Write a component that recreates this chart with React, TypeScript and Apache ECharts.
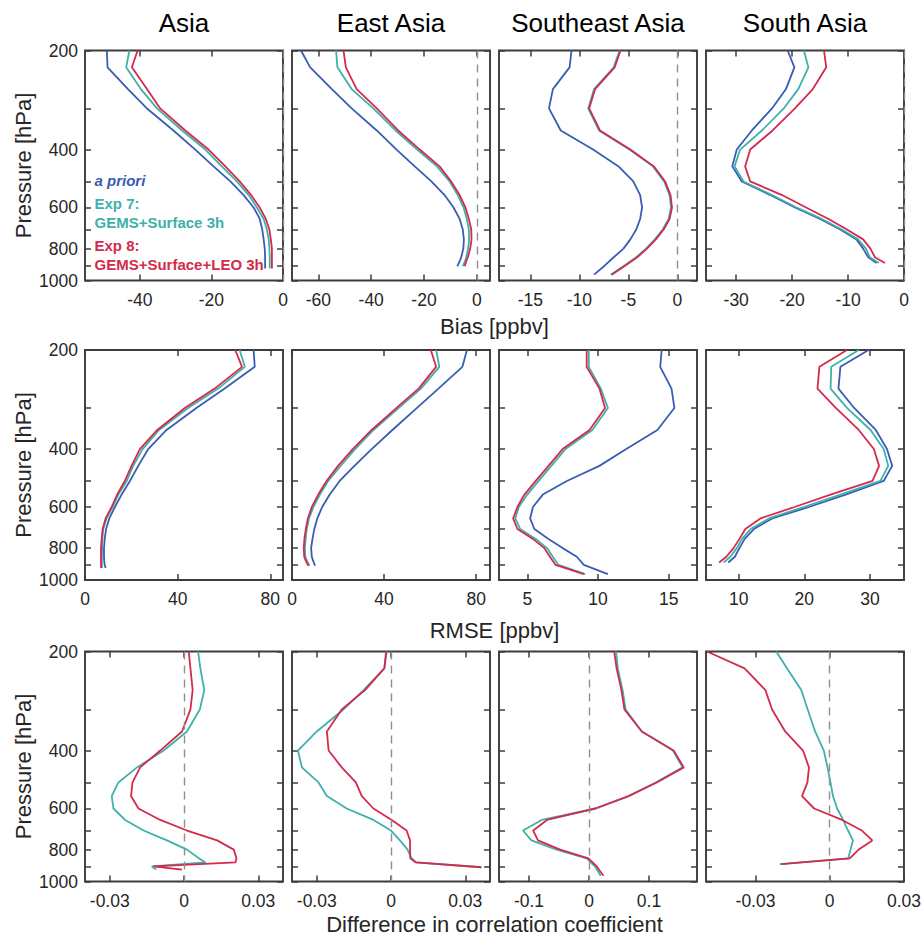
import React, { useEffect, useRef } from "react";
import * as echarts from "echarts";

const REGIONS = ["Asia", "East Asia", "Southeast Asia", "South Asia"];
const BASE_LEVELS = [200, 225, 262, 300, 350, 400, 450, 500, 550, 600, 650, 700, 750, 800, 850];
const P_ASIA = [...BASE_LEVELS, 875, 900, 920];
const P_EAST = [...BASE_LEVELS, 875, 905];
const P_SE = [...BASE_LEVELS, 900, 960];
const P_SOUTH = [...BASE_LEVELS, 885];
const PRESSURES = [P_ASIA, P_EAST, P_SE, P_SOUTH];

const Y_TICKS = [200, 300, 400, 500, 600, 700, 800, 900, 1000];
const Y_LABELS = [200, 400, 600, 800, 1000];

const SERIES_NAMES = ["a priori", "Exp 7: GEMS+Surface 3h", "Exp 8: GEMS+Surface+LEO 3h"];
const COLORS = ["#3a5cb4", "#3fb0aa", "#d42a4b"];

// Bias [ppbv]
const BIAS_ASIA_PRIORI = [-49.2, -49.0, -43.3, -38.0, -30.6, -24.5, -19.4, -14.7, -11.0, -8.2, -6.5, -5.8, -5.4, -5.1, -5.0, -5.0, -5.0, -5.0];
const BIAS_ASIA_EXP7 = [-42.9, -43.8, -39.7, -35.2, -28.2, -21.7, -17.1, -12.9, -9.6, -7.3, -5.4, -4.5, -4.0, -3.8, -3.7, -3.7, -3.7, -3.7];
const BIAS_ASIA_EXP8 = [-40.6, -42.2, -38.0, -34.3, -27.3, -20.8, -16.1, -12.1, -8.9, -6.5, -4.8, -3.8, -3.4, -3.1, -3.1, -3.1, -3.1, -3.1];
const BIAS_EAST_PRIORI = [-66.6, -63.1, -54.9, -47.4, -37.9, -30.4, -23.5, -17.2, -12.2, -8.8, -6.5, -5.3, -4.9, -5.1, -5.9, -6.5, -7.4];
const BIAS_EAST_EXP7 = [-53.3, -52.8, -47.4, -39.2, -30.8, -22.6, -15.1, -10.3, -7.2, -5.0, -3.8, -3.0, -2.9, -3.3, -4.0, -4.5, -5.3];
const BIAS_EAST_EXP8 = [-50.5, -49.6, -45.5, -37.9, -29.8, -21.6, -14.1, -9.7, -6.5, -4.3, -3.0, -2.1, -2.0, -2.5, -3.4, -4.0, -4.6];
const BIAS_SE_PRIORI = [-10.8, -11.0, -12.7, -13.1, -11.9, -8.6, -6.0, -4.5, -3.8, -3.6, -3.8, -4.2, -4.8, -5.5, -6.5, -7.4, -8.5];
const BIAS_SE_EXP7 = [-5.9, -6.5, -8.5, -9.1, -8.0, -4.9, -2.5, -1.35, -0.8, -0.65, -0.9, -1.5, -2.3, -3.2, -4.2, -5.4, -6.8];
const BIAS_SE_EXP8 = [-5.8, -6.4, -8.4, -9.0, -7.9, -4.8, -2.4, -1.25, -0.7, -0.55, -0.8, -1.4, -2.2, -3.1, -4.1, -5.3, -6.7];
const BIAS_SOUTH_PRIORI = [-20.8, -19.6, -21.1, -23.6, -27.2, -29.9, -30.7, -29.0, -23.9, -19.5, -15.0, -11.4, -8.5, -7.3, -6.4, -4.9];
const BIAS_SOUTH_EXP7 = [-17.9, -17.1, -18.9, -21.5, -25.4, -29.3, -30.3, -28.7, -23.6, -19.2, -14.7, -11.1, -8.2, -6.8, -6.1, -4.5];
const BIAS_SOUTH_EXP8 = [-14.3, -13.9, -16.3, -19.5, -23.5, -27.5, -28.4, -27.5, -21.8, -17.5, -13.5, -10.2, -7.3, -6.0, -5.2, -3.4];

// RMSE [ppbv]
const RMSE_ASIA_PRIORI = [72.8, 73.3, 60.3, 48.1, 35.2, 27.3, 23.0, 19.4, 15.8, 12.9, 10.5, 9.1, 8.5, 8.2, 8.2, 8.3, 8.5, 8.9];
const RMSE_ASIA_EXP7 = [66.8, 69.0, 57.5, 44.5, 32.0, 24.9, 20.8, 18.0, 14.4, 11.9, 9.3, 7.9, 7.5, 7.4, 7.3, 7.3, 7.3, 7.3];
const RMSE_ASIA_EXP8 = [64.9, 67.8, 56.0, 43.1, 31.2, 23.7, 20.1, 17.2, 13.9, 11.5, 8.9, 7.6, 7.2, 6.9, 6.9, 6.9, 6.9, 6.9];
const RMSE_EAST_PRIORI = [76, 74, 63.6, 54.3, 43.6, 34.6, 27.1, 20.7, 16.4, 13.1, 11.0, 9.7, 8.9, 8.3, 8.6, 9.2, 10.0];
const RMSE_EAST_EXP7 = [62.6, 64, 56, 46.4, 35.4, 27.4, 21.1, 15.7, 12.1, 9.3, 7.4, 6.4, 5.9, 5.6, 5.8, 6.5, 7.6];
const RMSE_EAST_EXP8 = [60.3, 62.6, 55, 45.4, 34.6, 26.4, 20, 15, 11.4, 8.6, 6.9, 6, 5.4, 5.1, 5.3, 6, 7.1];
const RMSE_SE_PRIORI = [14.5, 14.4, 15.2, 15.4, 14.2, 12.0, 10.1, 7.8, 6.1, 5.4, 5.2, 5.5, 6.5, 7.5, 8.5, 9.0, 10.7];
const RMSE_SE_EXP7 = [9.35, 9.35, 10.2, 10.7, 9.6, 7.7, 6.7, 5.8, 5.0, 4.4, 4.15, 4.5, 5.6, 6.4, 6.8, 7.2, 9.1];
const RMSE_SE_EXP8 = [9.2, 9.2, 10.1, 10.5, 9.4, 7.5, 6.5, 5.6, 4.8, 4.3, 4.0, 4.3, 5.4, 6.2, 6.6, 7.0, 9.0];
const RMSE_SOUTH_PRIORI = [29.8, 25.5, 25.2, 27.6, 30.9, 32.6, 33.4, 32.1, 26.3, 20.7, 15.1, 12.3, 10.9, 10.1, 9.4, 8.4];
const RMSE_SOUTH_EXP7 = [28.3, 24.1, 24.0, 26.5, 30.1, 32.1, 32.8, 31.6, 25.5, 19.9, 14.6, 11.8, 10.5, 9.7, 8.7, 7.7];
const RMSE_SOUTH_EXP8 = [26.5, 22.3, 22.0, 24.8, 28.3, 30.6, 31.4, 30.4, 24.0, 18.5, 13.3, 11.0, 10.1, 9.2, 8.1, 7.0];

// Difference in correlation coefficient
const CORR_ASIA_EXP7 = [0.0057, 0.0066, 0.0082, 0.0064, 0.0012, -0.0082, -0.019, -0.0265, -0.0292, -0.0285, -0.0238, -0.0163, -0.0069, 0.0012, 0.006, 0.0087, -0.013, -0.0112];
const CORR_ASIA_EXP8 = [0.0019, 0.0026, 0.0035, 0.0026, -0.0008, -0.0096, -0.0177, -0.0208, -0.0214, -0.0184, -0.0096, 0.0012, 0.0134, 0.0201, 0.0212, 0.0208, -0.0123, -0.0008];
const CORR_EAST_EXP7 = [-0.0017, -0.0027, -0.0111, -0.0192, -0.03, -0.0376, -0.036, -0.0293, -0.0259, -0.0179, -0.0071, 0, 0.0036, 0.0067, 0.0083, 0.0103, 0.0365];
const CORR_EAST_EXP8 = [-0.002, -0.0027, -0.0105, -0.0199, -0.0259, -0.0252, -0.0199, -0.0142, -0.0118, -0.0071, 0.0003, 0.0063, 0.0077, 0.0077, 0.0078, 0.0099, 0.0365];
const CORR_SE_EXP7 = [0.045, 0.048, 0.056, 0.061, 0.088, 0.14, 0.156, 0.111, 0.066, 0.012, -0.079, -0.11, -0.096, -0.054, -0.004, 0.01, 0.0195];
const CORR_SE_EXP8 = [0.042, 0.046, 0.054, 0.059, 0.088, 0.141, 0.158, 0.113, 0.066, 0.01, -0.07, -0.093, -0.085, -0.048, -0.001, 0.013, 0.024];
const CORR_SOUTH_EXP7 = [-0.0216, -0.0173, -0.0115, -0.0089, -0.0059, -0.0024, -0.0009, 0.0003, 0.0013, 0.003, 0.0054, 0.0074, 0.0094, 0.0084, 0.0075, -0.0202];
const CORR_SOUTH_EXP8 = [-0.0496, -0.0344, -0.026, -0.0233, -0.018, -0.0108, -0.0084, -0.009, -0.0112, -0.0063, 0.005, 0.013, 0.0172, 0.0117, 0.0081, -0.0195];

// x-axis ticks and limits, per row then per region
const BIAS_TICKS = [[-40, -20, 0], [-60, -40, -20, 0], [-15, -10, -5, 0], [-30, -20, -10, 0]];
const BIAS_LIMITS = [[-55.3, 0], [-70, 5], [-18.2, 2], [-35.4, 0]];
const RMSE_TICKS = [[0, 40, 80], [0, 40, 80], [5, 10, 15], [10, 20, 30]];
const RMSE_LIMITS = [[0, 85.5], [0, 86], [3, 17], [5, 35.2]];
const CORR_TICKS = [[-0.03, 0, 0.03], [-0.03, 0, 0.03], [-0.1, 0, 0.1], [-0.03, 0, 0.03]];
const CORR_LIMITS = [[-0.04, 0.04], [-0.04, 0.04], [-0.15, 0.18], [-0.05, 0.03]];

const ROWS = [
  {
    title: "Bias [ppbv]",
    ticks: BIAS_TICKS,
    limits: BIAS_LIMITS,
    zeroLine: true,
    series: [
      [BIAS_ASIA_PRIORI, BIAS_ASIA_EXP7, BIAS_ASIA_EXP8],
      [BIAS_EAST_PRIORI, BIAS_EAST_EXP7, BIAS_EAST_EXP8],
      [BIAS_SE_PRIORI, BIAS_SE_EXP7, BIAS_SE_EXP8],
      [BIAS_SOUTH_PRIORI, BIAS_SOUTH_EXP7, BIAS_SOUTH_EXP8],
    ],
  },
  {
    title: "RMSE [ppbv]",
    ticks: RMSE_TICKS,
    limits: RMSE_LIMITS,
    zeroLine: false,
    series: [
      [RMSE_ASIA_PRIORI, RMSE_ASIA_EXP7, RMSE_ASIA_EXP8],
      [RMSE_EAST_PRIORI, RMSE_EAST_EXP7, RMSE_EAST_EXP8],
      [RMSE_SE_PRIORI, RMSE_SE_EXP7, RMSE_SE_EXP8],
      [RMSE_SOUTH_PRIORI, RMSE_SOUTH_EXP7, RMSE_SOUTH_EXP8],
    ],
  },
  {
    title: "Difference in correlation coefficient",
    ticks: CORR_TICKS,
    limits: CORR_LIMITS,
    zeroLine: true,
    series: [
      [null, CORR_ASIA_EXP7, CORR_ASIA_EXP8],
      [null, CORR_EAST_EXP7, CORR_EAST_EXP8],
      [null, CORR_SE_EXP7, CORR_SE_EXP8],
      [null, CORR_SOUTH_EXP7, CORR_SOUTH_EXP8],
    ],
  },
];

const FONT = "'Liberation Sans', Arial, Helvetica, sans-serif";
const GRID_LEFT = [85, 292, 499, 706];
const GRID_TOP = [50.5, 350, 651.5];
const GRID_W = 198;
const GRID_H = 230;
const FRAME = "#3c3c3c";
const TEXT = "#262626";
const ROW_TITLE_Y = [326, 630, 924];

function buildOption() {
  const grid: any[] = [];
  const xAxis: any[] = [];
  const yAxis: any[] = [];
  const series: any[] = [];
  const graphic: any[] = [];
  const yMin = Math.log10(200);
  const yMax = Math.log10(1000);
  const yTickVals = Y_TICKS.map((p) => Math.log10(p));
  const yLabelVals = Y_LABELS.map((p) => Math.log10(p));
  const tickStyle = { color: FRAME, width: 1.5 };

  ROWS.forEach((row, r) => {
    REGIONS.forEach((_, c) => {
      const gi = r * 4 + c;
      const [xmin, xmax] = row.limits[c];
      grid.push({
        left: GRID_LEFT[c],
        top: GRID_TOP[r],
        width: GRID_W,
        height: GRID_H,
        show: true,
        borderColor: FRAME,
        borderWidth: 1.9,
        backgroundColor: "transparent",
      });
      const xBase = {
        gridIndex: gi,
        type: "value",
        min: xmin,
        max: xmax,
        axisLine: { show: false, onZero: false },
        splitLine: { show: false },
        axisTick: { show: true, inside: true, length: 6, customValues: row.ticks[c], lineStyle: tickStyle },
      };
      xAxis.push({
        ...xBase,
        position: "bottom",
        axisLabel: {
          show: true,
          customValues: row.ticks[c],
          margin: 10,
          fontSize: 17.5,
          color: TEXT,
          fontFamily: FONT,
          formatter: (v: number) => String(Math.round(v * 1000) / 1000),
        },
      });
      xAxis.push({ ...xBase, position: "top", axisLabel: { show: false } });
      const yBase = {
        gridIndex: gi,
        type: "value",
        inverse: true,
        min: yMin,
        max: yMax,
        axisLine: { show: false, onZero: false },
        splitLine: { show: false },
        axisTick: { show: true, inside: true, length: 6, customValues: yTickVals, lineStyle: tickStyle },
      };
      yAxis.push({
        ...yBase,
        position: "left",
        axisLabel: {
          show: c === 0,
          customValues: yLabelVals,
          margin: 7,
          fontSize: 17.5,
          color: TEXT,
          fontFamily: FONT,
          formatter: (v: number) => String(Math.round(Math.pow(10, v))),
        },
      });
      yAxis.push({ ...yBase, position: "right", axisLabel: { show: false } });

      const pressures = PRESSURES[c];
      let first = true;
      row.series[c].forEach((vals, s) => {
        if (!vals) return;
        const item: any = {
          name: SERIES_NAMES[s],
          type: "line",
          xAxisIndex: gi * 2,
          yAxisIndex: gi * 2,
          data: vals.map((v, i) => [v, Math.log10(pressures[i])]),
          symbol: "none",
          showSymbol: false,
          smooth: false,
          clip: true,
          lineStyle: { width: 1.8, color: COLORS[s] },
          itemStyle: { color: COLORS[s] },
          z: 2 + s,
        };
        if (first && row.zeroLine) {
          item.markLine = {
            silent: true,
            symbol: ["none", "none"],
            label: { show: false },
            lineStyle: { type: [8, 6], color: "#8f8f8f", width: 1.4 },
            data: [{ xAxis: 0 }],
          };
        }
        first = false;
        series.push(item);
      });
    });

    // row x-axis title
    graphic.push({
      type: "text",
      x: 494.5,
      y: ROW_TITLE_Y[r],
      style: {
        text: row.title,
        font: `22px ${FONT}`,
        fill: TEXT,
        textAlign: "center",
        textVerticalAlign: "middle",
        align: "center",
        verticalAlign: "middle",
      },
    });
    // y axis title
    graphic.push({
      type: "text",
      x: 23,
      y: GRID_TOP[r] + GRID_H / 2,
      rotation: Math.PI / 2,
      style: {
        text: "Pressure [hPa]",
        font: `22px ${FONT}`,
        fill: TEXT,
        textAlign: "center",
        textVerticalAlign: "middle",
        align: "center",
        verticalAlign: "middle",
      },
    });
  });

  // Region titles
  REGIONS.forEach((name, c) => {
    graphic.push({
      type: "text",
      x: GRID_LEFT[c] + GRID_W / 2,
      y: 23,
      style: {
        text: name,
        font: `26px ${FONT}`,
        fill: "#000",
        textAlign: "center",
        textVerticalAlign: "middle",
        align: "center",
        verticalAlign: "middle",
      },
    });
  });

  // In-panel legend
  const legendLines = [
    { text: "a priori", color: COLORS[0], italic: true, y: 180 },
    { text: "Exp 7:", color: COLORS[1], italic: false, y: 203.5 },
    { text: "GEMS+Surface 3h", color: COLORS[1], italic: false, y: 222 },
    { text: "Exp 8:", color: COLORS[2], italic: false, y: 245.5 },
    { text: "GEMS+Surface+LEO 3h", color: COLORS[2], italic: false, y: 264 },
  ];
  legendLines.forEach((l) => {
    graphic.push({
      type: "text",
      x: 94.5,
      y: l.y,
      z: 10,
      style: {
        text: l.text,
        font: `${l.italic ? "italic " : ""}bold 15px ${FONT}`,
        fill: l.color,
        textAlign: "left",
        textVerticalAlign: "middle",
        align: "left",
        verticalAlign: "middle",
      },
    });
  });

  return {
    animation: false,
    backgroundColor: "#ffffff",
    grid,
    xAxis,
    yAxis,
    series,
    graphic,
  };
}

export default function App() {
  const ref = useRef<HTMLDivElement>(null);
  useEffect(() => {
    if (!ref.current) return;
    const chart = echarts.init(ref.current, undefined, { renderer: "svg" });
    chart.setOption(buildOption() as any);
    return () => chart.dispose();
  }, []);
  return (
    <div
      ref={ref}
      style={{ position: "absolute", left: 0, top: 0, width: 924, height: 935, background: "#fff" }}
    />
  );
}
